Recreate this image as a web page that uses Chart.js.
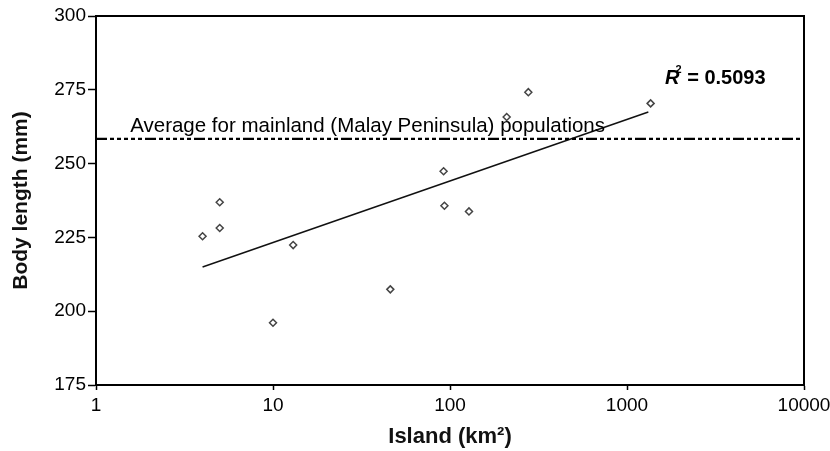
<!DOCTYPE html>
<html>
<head>
<meta charset="utf-8">
<script src="https://cdn.jsdelivr.net/npm/chart.js@4"></script>
<style>
  html, body { margin: 0; padding: 0; background: #fff; }
  #wrap { width: 830px; height: 451px; }
</style>
</head>
<body>
<div id="wrap"><canvas id="chart"></canvas></div>
<script>
// Island area (km2) vs body length (mm)
const islandArea = [4, 5, 5, 10, 13, 46, 92, 93, 128, 209, 277, 1360];
const bodyLength = [225.4, 228.2, 236.9, 196.1, 222.4, 207.4, 247.4, 235.7, 233.8, 265.8, 274.2, 270.4];

// fitted trend line at both ends
const trendX = [4, 1320];
const trendY = [215, 267.5];

// mainland average
const mainlandX = [1, 10000];
const mainlandAvg = 258.4;

const xTicks = [1, 10, 100, 1000, 10000];
const yTicks = [175, 200, 225, 250, 275, 300];

const mainlandLabel = 'Average for mainland (Malay Peninsula) populations';
const r2Label = '0.5093';

const FONT = 'Arial, "Liberation Sans", Helvetica, sans-serif';

// box round the plot + the two text notes
const notesPlugin = {
    id: 'notes',
    afterDatasetsDraw(chart) {
        const { ctx, chartArea: a, scales: { x, y } } = chart;
        ctx.save();
        ctx.strokeStyle = '#000';
        ctx.lineWidth = 2;
        ctx.beginPath();
        ctx.moveTo(a.left, a.top);
        ctx.lineTo(a.right, a.top);
        ctx.lineTo(a.right, a.bottom);
        ctx.stroke();

        ctx.fillStyle = '#000';
        ctx.textBaseline = 'alphabetic';
        ctx.textAlign = 'left';
        ctx.font = '20.5px ' + FONT;
        ctx.fillText(mainlandLabel, x.getPixelForValue(1.56), y.getPixelForValue(mainlandAvg) - 7);

        // R^2 label
        let px = x.getPixelForValue(1640);
        const py = y.getPixelForValue(279.3) + 7;
        ctx.font = 'italic bold 20px ' + FONT;
        ctx.fillText('R', px, py);
        px += ctx.measureText('R').width - 4;
        ctx.font = 'bold 11px ' + FONT;
        ctx.fillText('2', px, py - 11);
        px += ctx.measureText('2').width;
        ctx.font = 'bold 20px ' + FONT;
        ctx.fillText(' = ' + r2Label, px, py);
        ctx.restore();
    }
};

const points = islandArea.map((v, i) => ({ x: v, y: bodyLength[i] }));
const trend = trendX.map((v, i) => ({ x: v, y: trendY[i] }));
const mainland = mainlandX.map(v => ({ x: v, y: mainlandAvg }));

new Chart(document.getElementById('chart'), {
    type: 'scatter',
    data: {
        datasets: [
            {
                data: mainland,
                showLine: true,
                borderColor: '#000',
                borderWidth: 2.2,
                borderDash: [11, 3, 4, 3, 4, 3, 4, 3, 4, 3, 4, 3],
                pointRadius: 0
            },
            {
                data: trend,
                showLine: true,
                borderColor: '#111',
                borderWidth: 1.5,
                pointRadius: 0
            },
            {
                data: points,
                pointStyle: 'rectRot',
                pointRadius: 3.5,
                backgroundColor: '#fff',
                borderColor: '#444',
                borderWidth: 1.5
            }
        ]
    },
    options: {
        responsive: true,
        maintainAspectRatio: false,
        animation: false,
        layout: { padding: { top: 16, right: 26, left: 0, bottom: 0 } },
        plugins: { legend: { display: false }, tooltip: { enabled: false } },
        scales: {
            x: {
                type: 'logarithmic',
                min: 1,
                max: 10000,
                afterBuildTicks: s => { s.ticks = xTicks.map(v => ({ value: v })); },
                afterFit: s => { s.height = 66; s.paddingRight = 0; s.paddingLeft = 0; },
                border: { display: true, color: '#000', width: 2 },
                grid: { drawOnChartArea: false, drawTicks: true, tickLength: 5, tickColor: '#000', tickWidth: 1.5 },
                ticks: {
                    autoSkip: false, maxRotation: 0, padding: 4,
                    color: '#000', font: { family: FONT, size: 19 },
                    callback: v => String(v)
                },
                title: {
                    display: true, text: 'Island (km\u00B2)', color: '#111',
                    font: { family: FONT, size: 22, weight: 'bold' },
                    padding: { top: 0, bottom: 1 }
                }
            },
            y: {
                min: 175,
                max: 300,
                afterBuildTicks: s => { s.ticks = yTicks.map(v => ({ value: v })); },
                afterFit: s => { s.width = 96; },
                border: { display: true, color: '#000', width: 2 },
                grid: { drawOnChartArea: false, drawTicks: true, tickLength: 8, tickColor: '#000', tickWidth: 1.5 },
                ticks: { padding: 2, color: '#000', font: { family: FONT, size: 19 } },
                title: {
                    display: true, text: 'Body length (mm)', color: '#111',
                    font: { family: FONT, size: 21, weight: 'bold' },
                    padding: { top: 9, bottom: 0 }
                }
            }
        }
    },
    plugins: [notesPlugin]
});
</script>
</body>
</html>
